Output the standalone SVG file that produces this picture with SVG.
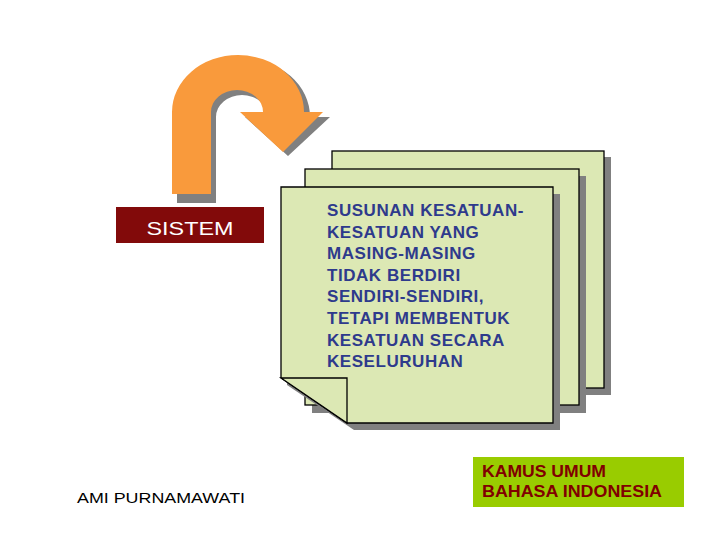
<svg xmlns="http://www.w3.org/2000/svg" width="720" height="540" viewBox="0 0 720 540">
<style>
.shadow{fill:#808080;stroke:none}
.page{fill:#DCE8B4;stroke:#000;stroke-width:1.3}
.pt{font-family:"Liberation Sans",Arial,sans-serif;font-weight:bold;font-size:17px;fill:#2E3A8C;letter-spacing:0.55px}
.lab{font-family:"Liberation Sans",Arial,sans-serif}
</style>
<rect width="720" height="540" fill="#fff"/>
<g id="arrow">
<path class="shadow" d="M177,203 L177,117 A65.5,57 0 0 1 310,117 L330,117 L288,156 L245,117 L268,117 A26,22 0 0 0 216,117 L216,203 Z"/>
<path fill="#F99A3C" d="M172,194 L172,112 A66,57 0 0 1 304,112 L323,112 L283,152 L240,112 L263,112 A26,22 0 0 0 211,112 L211,194 Z"/>
</g>
<g id="sistem">
<rect x="116" y="207" width="148" height="36" fill="#820A0A"/>
<text class="lab" x="190" y="235" font-size="19" fill="#fff" text-anchor="middle" textLength="87" lengthAdjust="spacingAndGlyphs">SISTEM</text>
</g>
<g id="pages">
<rect class="shadow" x="339" y="157" width="272" height="238"/>
<rect class="page" x="332" y="151" width="272" height="237"/>
<rect class="shadow" x="312" y="176" width="274" height="237"/>
<rect class="page" x="305" y="169" width="274" height="236"/>
<path class="shadow" d="M287,385 L287,194 L560,194 L560,430 L354,430 Z"/>
<path class="page" d="M281,378 L281,187 L553,187 L553,423 L347,423 Z"/>
<path fill="#DCE8B4" stroke="#000" stroke-width="1.3" d="M281,378 L347,378 L347,423 Z"/>
<text class="pt" x="327" y="216">SUSUNAN KESATUAN-</text>
<text class="pt" x="327" y="237.6">KESATUAN YANG</text>
<text class="pt" x="327" y="259.2">MASING-MASING</text>
<text class="pt" x="327" y="280.8">TIDAK BERDIRI</text>
<text class="pt" x="327" y="302.4">SENDIRI-SENDIRI,</text>
<text class="pt" x="327" y="324">TETAPI MEMBENTUK</text>
<text class="pt" x="327" y="345.6">KESATUAN SECARA</text>
<text class="pt" x="327" y="367.2">KESELURUHAN</text>
</g>
<g id="kamus">
<rect x="473" y="457" width="211" height="50" fill="#99CC00"/>
<text class="lab" x="482" y="477" font-size="16" font-weight="bold" fill="#800000" textLength="124" lengthAdjust="spacingAndGlyphs">KAMUS UMUM</text>
<text class="lab" x="482" y="497" font-size="16" font-weight="bold" fill="#800000" textLength="180" lengthAdjust="spacingAndGlyphs">BAHASA INDONESIA</text>
</g>
<g id="author">
<text class="lab" x="77" y="503" font-size="15" fill="#000" textLength="168" lengthAdjust="spacingAndGlyphs">AMI PURNAMAWATI</text>
</g>
<g id="connectors"></g>
</svg>
